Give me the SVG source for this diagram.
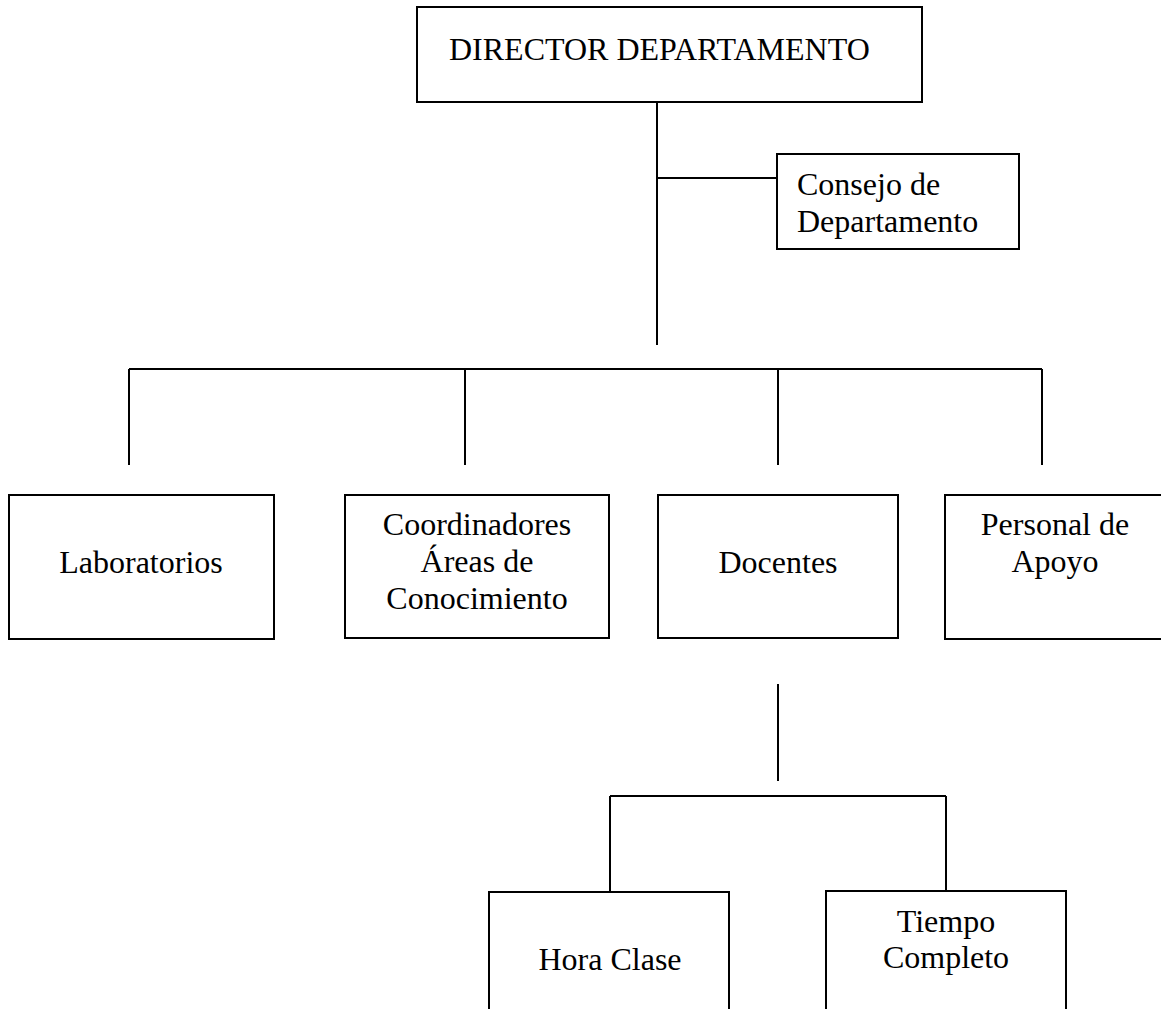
<svg xmlns="http://www.w3.org/2000/svg" width="1161" height="1009" viewBox="0 0 1161 1009">
  <style>
    .box { fill: #ffffff; stroke: #000000; stroke-width: 2; }
    .line { fill: none; stroke: #000000; stroke-width: 2; }
    .label { font-family: "Liberation Serif", "Times New Roman", serif; font-size: 32px; fill: #000000; }
    .mid { text-anchor: middle; }
  </style>
  <rect width="1161" height="1009" fill="#ffffff"/>

  <g id="connectors">
    <!-- director trunk and council branch -->
    <line class="line" x1="657" y1="102" x2="657" y2="345"/>
    <line class="line" x1="657" y1="178" x2="777" y2="178"/>
    <!-- bus to the four units -->
    <line class="line" x1="129" y1="369" x2="1042" y2="369"/>
    <line class="line" x1="129" y1="369" x2="129" y2="465"/>
    <line class="line" x1="465" y1="369" x2="465" y2="465"/>
    <line class="line" x1="778" y1="369" x2="778" y2="465"/>
    <line class="line" x1="1042" y1="369" x2="1042" y2="465"/>
    <!-- teaching staff split -->
    <line class="line" x1="778" y1="684" x2="778" y2="781"/>
    <line class="line" x1="610" y1="796" x2="946" y2="796"/>
    <line class="line" x1="610" y1="796" x2="610" y2="892"/>
    <line class="line" x1="946" y1="796" x2="946" y2="891"/>
  </g>

  <g id="director">
    <rect class="box" x="417" y="7" width="505" height="95"/>
    <text class="label" x="449" y="60">DIRECTOR DEPARTAMENTO</text>
  </g>

  <g id="consejo">
    <rect class="box" x="777" y="154" width="242" height="95"/>
    <text class="label" x="797" y="195">Consejo de</text>
    <text class="label" x="797" y="232">Departamento</text>
  </g>

  <g id="laboratorios">
    <rect class="box" x="9" y="495" width="265" height="144"/>
    <text class="label mid" x="141" y="573">Laboratorios</text>
  </g>

  <g id="coordinadores">
    <rect class="box" x="345" y="495" width="264" height="143"/>
    <text class="label mid" x="477" y="535">Coordinadores</text>
    <text class="label mid" x="477" y="572">Áreas de</text>
    <text class="label mid" x="477" y="609">Conocimiento</text>
  </g>

  <g id="docentes">
    <rect class="box" x="658" y="495" width="240" height="143"/>
    <text class="label mid" x="778" y="573">Docentes</text>
  </g>

  <g id="personal">
    <rect class="box" x="945" y="495" width="222" height="144"/>
    <text class="label mid" x="1055" y="535">Personal de</text>
    <text class="label mid" x="1055" y="572">Apoyo</text>
  </g>

  <g id="hora-clase">
    <rect class="box" x="489" y="892" width="240" height="140"/>
    <text class="label mid" x="610" y="970">Hora Clase</text>
  </g>

  <g id="tiempo-completo">
    <rect class="box" x="826" y="891" width="240" height="140"/>
    <text class="label mid" x="946" y="932">Tiempo</text>
    <text class="label mid" x="946" y="968">Completo</text>
  </g>
</svg>
